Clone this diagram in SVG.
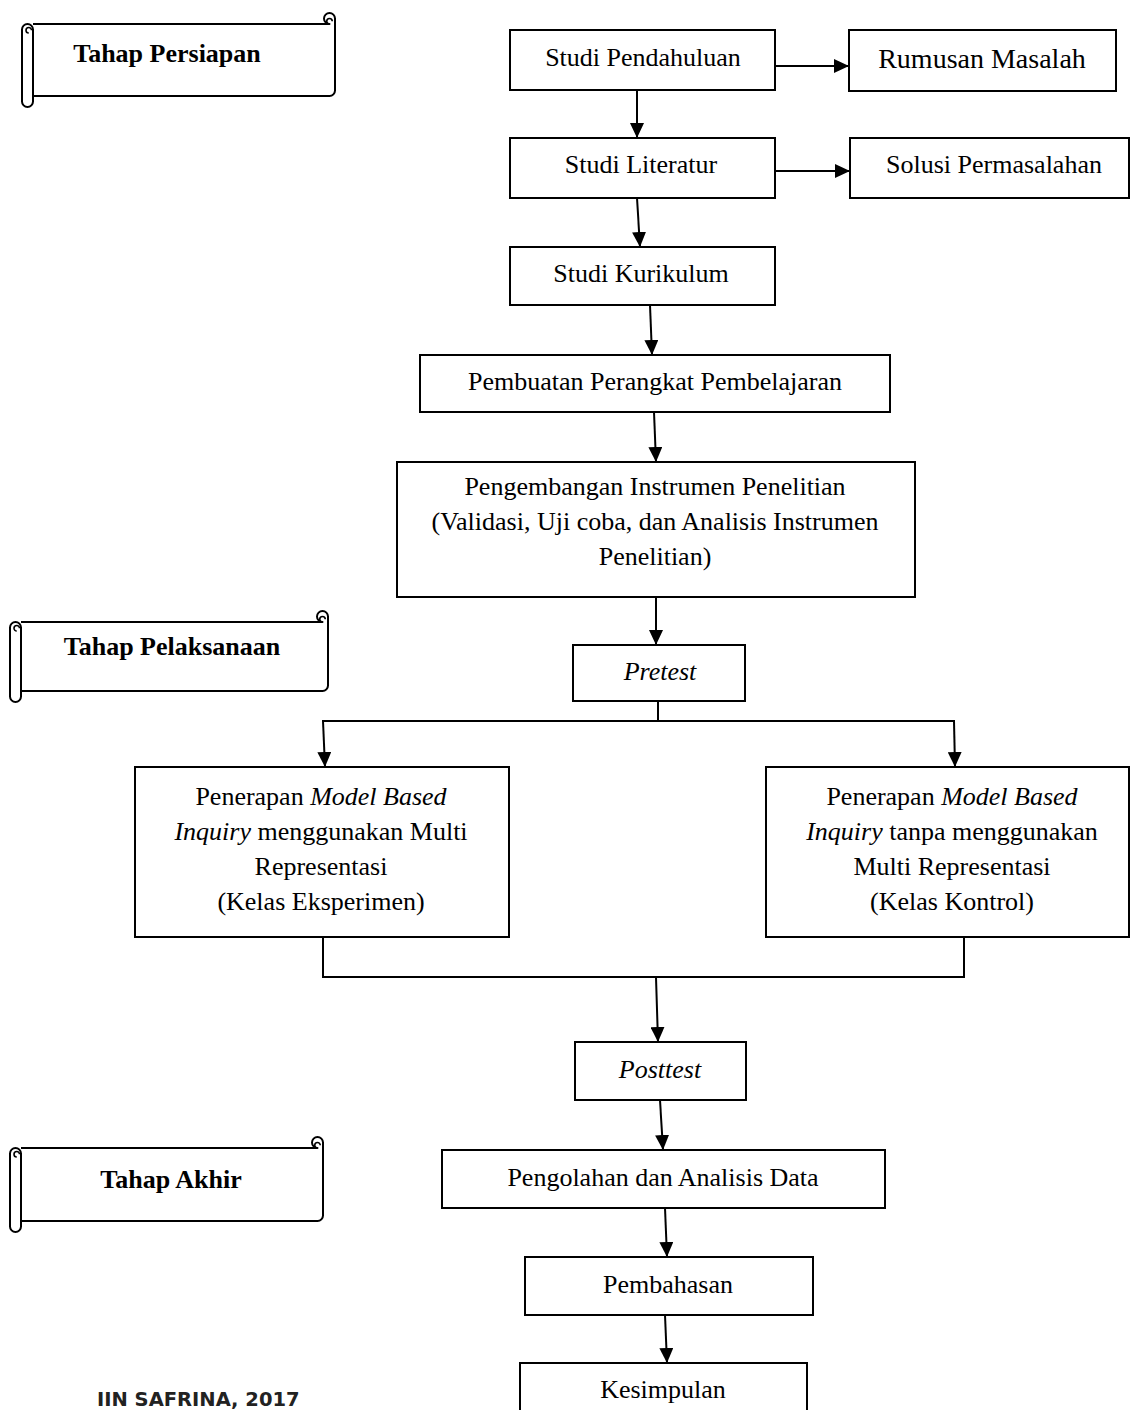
<svg xmlns="http://www.w3.org/2000/svg" width="1130" height="1410" viewBox="0 0 1130 1410">
<defs>
<marker id="ah" markerUnits="userSpaceOnUse" markerWidth="15" markerHeight="14" refX="15" refY="7" orient="auto">
<path d="M0,0 L15,7 L0,14 Z" fill="#000"/>
</marker>
<style>
.box{fill:#fff;stroke:#000;stroke-width:2}
.scroll{fill:#fff;stroke:#000;stroke-width:2;stroke-linejoin:round}
.curl{fill:none;stroke:#000;stroke-width:1.6}
.t{font-family:"Liberation Serif","Times New Roman",serif;font-size:26px;fill:#000;text-anchor:middle}
.tb{font-family:"Liberation Serif","Times New Roman",serif;font-size:26px;font-weight:bold;fill:#000;text-anchor:middle}
.i{font-style:italic}
.c{fill:none;stroke:#000;stroke-width:2}
.ca{fill:none;stroke:#000;stroke-width:2;marker-end:url(#ah)}
.sig{font-family:"DejaVu Sans",sans-serif;font-size:19.5px;font-weight:bold;fill:#222}
</style>
</defs>
<rect width="1130" height="1410" fill="#fff"/>

<g id="scroll-persiapan">
<path class="scroll" d="M33,24 L329.5,24 A5.5,5.5 0 1 1 335,18.5 L335,90.5 A5.5,5.5 0 0 1 329.5,96 L33,96"/>
<path class="curl" d="M329.5,24 A2.75,2.75 0 1 1 332.25,21.25"/>
<path class="scroll" d="M22,29.5 A5.5,5.5 0 0 1 33,29.5 L33,101.5 A5.5,5.5 0 0 1 22,101.5 Z"/>
<path class="curl" d="M28.75,33 A2.75,2.75 0 1 1 31.5,30.25"/>
<text class="tb" x="167" y="62">Tahap Persiapan</text>
</g>

<g id="scroll-pelaksanaan">
<path class="scroll" d="M21,622 L322.5,622 A5.5,5.5 0 1 1 328,616.5 L328,685.5 A5.5,5.5 0 0 1 322.5,691 L21,691"/>
<path class="curl" d="M322.5,622 A2.75,2.75 0 1 1 325.25,619.25"/>
<path class="scroll" d="M10,627.5 A5.5,5.5 0 0 1 21,627.5 L21,696.5 A5.5,5.5 0 0 1 10,696.5 Z"/>
<path class="curl" d="M16.75,631 A2.75,2.75 0 1 1 19.5,628.25"/>
<text class="tb" x="172" y="655">Tahap Pelaksanaan</text>
</g>

<g id="scroll-akhir">
<path class="scroll" d="M21,1148 L317.5,1148 A5.5,5.5 0 1 1 323,1142.5 L323,1215.5 A5.5,5.5 0 0 1 317.5,1221 L21,1221"/>
<path class="curl" d="M317.5,1148 A2.75,2.75 0 1 1 320.25,1145.25"/>
<path class="scroll" d="M10,1153.5 A5.5,5.5 0 0 1 21,1153.5 L21,1226.5 A5.5,5.5 0 0 1 10,1226.5 Z"/>
<path class="curl" d="M16.75,1157 A2.75,2.75 0 1 1 19.5,1154.25"/>
<text class="tb" x="171" y="1188">Tahap Akhir</text>
</g>

<g id="connectors">
<line class="ca" x1="775" y1="66" x2="849" y2="66"/>
<line class="ca" x1="775" y1="171" x2="850" y2="171"/>
<line class="ca" x1="637" y1="90" x2="637" y2="138"/>
<line class="ca" x1="637" y1="198" x2="640" y2="247"/>
<line class="ca" x1="650" y1="305" x2="652" y2="355"/>
<line class="ca" x1="654" y1="412" x2="656" y2="462"/>
<line class="ca" x1="656" y1="597" x2="656" y2="645"/>
<line class="c" x1="658" y1="701" x2="658" y2="721"/>
<line class="c" x1="322" y1="721" x2="955" y2="721"/>
<line class="ca" x1="323" y1="721" x2="325" y2="767"/>
<line class="ca" x1="954" y1="721" x2="955" y2="767"/>
<polyline class="c" points="323,937 323,977 964,977 964,937"/>
<line class="ca" x1="656" y1="977" x2="658" y2="1042"/>
<line class="ca" x1="660" y1="1100" x2="663" y2="1150"/>
<line class="ca" x1="665" y1="1208" x2="667" y2="1257"/>
<line class="ca" x1="665" y1="1315" x2="667" y2="1363"/>
</g>

<g id="studi-pendahuluan">
<rect class="box" x="510" y="30" width="265" height="60"/>
<text class="t" x="643" y="66">Studi Pendahuluan</text>
</g>
<g id="rumusan-masalah">
<rect class="box" x="849" y="30" width="267" height="61"/>
<text class="t" x="982" y="68" style="font-size:28px">Rumusan Masalah</text>
</g>
<g id="studi-literatur">
<rect class="box" x="510" y="138" width="265" height="60"/>
<text class="t" x="641" y="173">Studi Literatur</text>
</g>
<g id="solusi-permasalahan">
<rect class="box" x="850" y="138" width="279" height="60"/>
<text class="t" x="994" y="173">Solusi Permasalahan</text>
</g>
<g id="studi-kurikulum">
<rect class="box" x="510" y="247" width="265" height="58"/>
<text class="t" x="641" y="282">Studi Kurikulum</text>
</g>
<g id="pembuatan-perangkat">
<rect class="box" x="420" y="355" width="470" height="57"/>
<text class="t" x="655" y="390">Pembuatan Perangkat Pembelajaran</text>
</g>
<g id="pengembangan-instrumen">
<rect class="box" x="397" y="462" width="518" height="135"/>
<text class="t" x="655" y="495">Pengembangan Instrumen Penelitian</text>
<text class="t" x="655" y="530">(Validasi, Uji coba, dan Analisis Instrumen</text>
<text class="t" x="655" y="565">Penelitian)</text>
</g>
<g id="pretest">
<rect class="box" x="573" y="645" width="172" height="56"/>
<text class="t i" x="660" y="680">Pretest</text>
</g>
<g id="kelas-eksperimen">
<rect class="box" x="135" y="767" width="374" height="170"/>
<text class="t" x="321" y="805">Penerapan <tspan class="i">Model Based</tspan></text>
<text class="t" x="321" y="840"><tspan class="i">Inquiry</tspan> menggunakan Multi</text>
<text class="t" x="321" y="875">Representasi</text>
<text class="t" x="321" y="910">(Kelas Eksperimen)</text>
</g>
<g id="kelas-kontrol">
<rect class="box" x="766" y="767" width="363" height="170"/>
<text class="t" x="952" y="805">Penerapan <tspan class="i">Model Based</tspan></text>
<text class="t" x="952" y="840"><tspan class="i">Inquiry</tspan> tanpa menggunakan</text>
<text class="t" x="952" y="875">Multi Representasi</text>
<text class="t" x="952" y="910">(Kelas Kontrol)</text>
</g>
<g id="posttest">
<rect class="box" x="575" y="1042" width="171" height="58"/>
<text class="t i" x="660" y="1078">Posttest</text>
</g>
<g id="pengolahan">
<rect class="box" x="442" y="1150" width="443" height="58"/>
<text class="t" x="663" y="1186">Pengolahan dan Analisis Data</text>
</g>
<g id="pembahasan">
<rect class="box" x="525" y="1257" width="288" height="58"/>
<text class="t" x="668" y="1293">Pembahasan</text>
</g>
<g id="kesimpulan">
<rect class="box" x="520" y="1363" width="287" height="60"/>
<text class="t" x="663" y="1398">Kesimpulan</text>
</g>

<text class="sig" x="97" y="1406">IIN SAFRINA, 2017</text>
</svg>
